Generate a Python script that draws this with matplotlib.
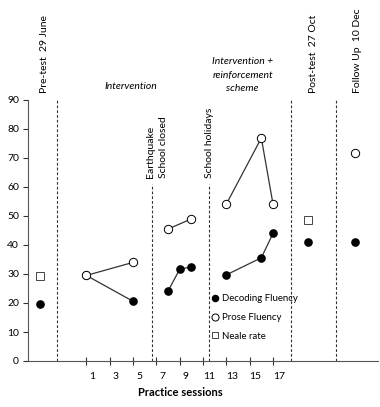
import matplotlib.pyplot as plt
import matplotlib.transforms as mtransforms
import numpy as np

plt.rcParams['font.family'] = ['Lato', 'DejaVu Sans']

# Practice sessions during the intervention (nan breaks the line between blocks)
dec_sessions = [1, 5, np.nan, 8, 9, 10, np.nan, 13, 16, 17]
dec_values = [29.5, 20.6, np.nan, 24.1, 31.6, 32.5, np.nan, 29.7, 35.6, 44.0]
prose_sessions = [1, 5, np.nan, 8, 10, np.nan, 13, 16, 17]
prose_values = [29.5, 34.0, np.nan, 45.5, 49.0, np.nan, 54.1, 76.9, 54.1]

# Single tests: pre-test, post-test, follow up
test_x = [-3, 20, 24]
test_decoding = [19.6, 41.1, 41.1]
neale_x = [-3, 20]
neale_values = [29.3, 48.6]
followup_prose_x = [24]
followup_prose = [71.6]

# Vertical separators (x position, top)
sep_x = [-1.5, 6.65, 11.55, 18.55, 22.4]
sep_top = [90, 61, 61, 90, 90]

tick_sessions = [1, 3, 5, 7, 9, 11, 13, 15, 17]

fig = plt.figure(figsize=(3.8, 4.07), dpi=100)
ax = fig.add_axes([28 / 380, 1 - 361 / 407, 350 / 380, 261 / 407])

for x, top in zip(sep_x, sep_top):
    ax.plot([x, x], [0, top], color='#333333', lw=0.8, ls=(0, (2.5, 1.8)), zorder=1)

ax.plot(dec_sessions, dec_values, color='#333333', lw=0.9, marker='o', ms=5.2,
        mfc='black', mec='black', zorder=2, label='Decoding Fluency')
ax.plot(prose_sessions, prose_values, color='#333333', lw=0.9, marker='o', ms=6,
        mfc='white', mec='black', mew=0.7, zorder=3, label='Prose Fluency')
ax.plot(test_x, test_decoding, ls='none', marker='o', ms=5.2, mfc='black', mec='black', zorder=2)
ax.plot(followup_prose_x, followup_prose, ls='none', marker='o', ms=6, mfc='white',
        mec='black', mew=0.7, zorder=3)
ax.plot(neale_x, neale_values, ls='none', marker='s', ms=5.5, mfc='white', mec='#444444',
        mew=0.7, zorder=3, label='Neale rate')

ax.set_xlim(-4, 26)
ax.set_ylim(0, 90)
ax.set_yticks(range(0, 91, 10))
ax.set_xticks(tick_sessions)
ax.tick_params(axis='x', direction='inout', length=6, width=0.8, labelsize=7.5, pad=5, colors='#333333')
ax.tick_params(axis='y', direction='out', length=3.5, width=0.8, labelsize=7.5, pad=3, colors='#333333')
ax.tick_params(labelcolor='black')
offset = mtransforms.ScaledTranslation(6 / 100, 0, fig.dpi_scale_trans)
for lab in ax.get_xticklabels():
    lab.set_transform(lab.get_transform() + offset)

for s in ['top', 'right']:
    ax.spines[s].set_visible(False)
for s in ['left', 'bottom']:
    ax.spines[s].set_color('#555555')
    ax.spines[s].set_linewidth(0.8)

ax.set_xlabel('Practice sessions', fontsize=8, fontweight='bold')
ax.xaxis.set_label_coords(0.434, -0.1)

# Phase annotations
ax.text(-2.56, 92.4, 'Pre-test  29 June', rotation=90, ha='center', va='bottom', fontsize=7.5, clip_on=False)
ax.text(4.8, 94.8, 'Intervention', style='italic', ha='center', va='center', fontsize=7.5, clip_on=False)
ax.text(7.05, 63.1, 'Earthquake\nSchool closed', rotation=90, ha='center', va='bottom',
        multialignment='left', fontsize=7.5, linespacing=1.5)
ax.text(11.54, 63.1, 'School holidays', rotation=90, ha='center', va='bottom', fontsize=7.5)
ax.text(14.4, 98.6, 'Intervention +\nreinforcement\nscheme', style='italic', ha='center', va='center',
        fontsize=7.5, linespacing=1.65, clip_on=False)
ax.text(20.5, 92.4, 'Post-test  27 Oct', rotation=90, ha='center', va='bottom', fontsize=7.5, clip_on=False)
ax.text(24.2, 92.4, 'Follow Up  10 Dec', rotation=90, ha='center', va='bottom', fontsize=7.5, clip_on=False)

ax.legend(loc='upper left', bbox_to_anchor=(0.528, 0.255), frameon=False, fontsize=6.9,
          markerscale=0.85, handlelength=0.5, handletextpad=0.45, borderpad=0, borderaxespad=0,
          labelspacing=1.0)

fig.savefig('out.png', dpi=100)
